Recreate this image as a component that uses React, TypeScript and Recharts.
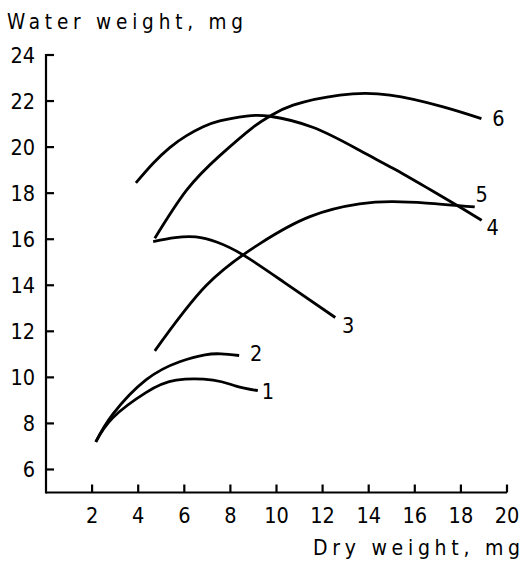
import React from 'react';
import { LineChart, Line, XAxis, YAxis, LabelList, Label } from 'recharts';

// Dry weight (mg) vs water weight (mg) for six growth curves
const dry1 = [2.16, 2.9, 4.35, 5.65, 7.25, 8.25, 9.19];
const water1 = [7.2, 8.25, 9.35, 9.88, 9.88, 9.62, 9.42];

const dry2 = [2.16, 2.9, 4.35, 5.8, 6.9, 7.6, 8.38];
const water2 = [7.2, 8.4, 9.9, 10.68, 10.98, 11.02, 10.95];

const dry3 = [4.65, 5.6, 6.5, 7.4, 8.55, 10.3, 12.55];
const water3 = [15.9, 16.07, 16.1, 15.88, 15.32, 14.15, 12.6];

const dry4 = [3.9, 4.65, 5.37, 6.1, 6.82, 7.54, 8.7, 9.71, 11.6, 13.6, 15.05, 16.5, 17.95, 18.9];
const water4 = [18.45, 19.3, 19.98, 20.5, 20.88, 21.14, 21.35, 21.34, 20.85, 19.86, 19.08, 18.25, 17.4, 16.82];

const dry5 = [4.72, 6.96, 9.28, 11.45, 13.6, 15.05, 16.5, 18.6];
const water5 = [11.15, 14.0, 15.81, 16.98, 17.53, 17.63, 17.57, 17.4];

const dry6 = [4.72, 6.1, 7.54, 8.98, 9.71, 10.72, 12.75, 14.92, 17.23, 18.89];
const water6 = [16.04, 18.13, 19.63, 20.86, 21.34, 21.82, 22.26, 22.26, 21.75, 21.24];

const curveNames = ['1', '2', '3', '4', '5', '6'];
const dryTicks = [2, 4, 6, 8, 10, 12, 14, 16, 18, 20];
const waterTicks = [6, 8, 10, 12, 14, 16, 18, 20, 22, 24];

const xTitle = 'Dry weight, mg';
const yTitle = 'Water weight, mg';

const curves = [
  [dry1, water1],
  [dry2, water2],
  [dry3, water3],
  [dry4, water4],
  [dry5, water5],
  [dry6, water6],
].map(([xs, ys], i) => ({
  name: curveNames[i],
  data: xs.map((x, j) => ({ x, y: ys[j] })),
}));

// Where each curve's number sits relative to its last point
const endLabelShift: Record<string, [number, number]> = {
  '1': [10, 1],
  '2': [17, -2],
  '3': [13, 8],
  '4': [11, 7],
  '5': [7, -12],
  '6': [17, 0],
};

const FONT = "'DejaVu Sans Condensed', 'DejaVu Sans', sans-serif";
const INK = '#000';

const YTick = (props: any) => {
  const { x, y, payload } = props;
  return (
    <g>
      <line x1={x} y1={y} x2={x + 8} y2={y} stroke={INK} strokeWidth={2.2} />
      <text x={x - 11} y={y + 7.5} textAnchor="end" fontFamily={FONT} fontSize={21.5} fill={INK}>
        {payload.value}
      </text>
    </g>
  );
};

const XTick = (props: any) => {
  const { x, y, payload } = props;
  return (
    <g>
      <line x1={x} y1={y} x2={x} y2={y - 8} stroke={INK} strokeWidth={2.2} />
      <text x={x} y={y + 30.5} textAnchor="middle" fontFamily={FONT} fontSize={21.5} fill={INK}>
        {payload.value}
      </text>
    </g>
  );
};

const makeEndLabel = (name: string, last: number) => (props: any) => {
  const { x, y, index } = props;
  if (index !== last) return null;
  const [dx, dy] = endLabelShift[name];
  return (
    <text
      x={x + dx}
      y={y + dy}
      textAnchor="middle"
      dominantBaseline="central"
      fontFamily={FONT}
      fontSize={21.5}
      fill={INK}
    >
      {name}
    </text>
  );
};

export default function App() {
  return (
    <div style={{ position: 'absolute', left: 0, top: 0, background: '#fff' }}>
      <LineChart
        width={522}
        height={568}
        margin={{ top: 55, right: 15, bottom: 0, left: 0 }}
      >
        <XAxis
          type="number"
          dataKey="x"
          domain={[0, 20]}
          ticks={dryTicks}
          allowDataOverflow
          height={75.5}
          tickSize={0}
          tickMargin={0}
          tick={<XTick />}
          axisLine={{ stroke: INK, strokeWidth: 2.2 }}
          tickLine={false}
        >
          <Label
            content={() => (
              <text x={313} y={555} fontFamily={FONT} fontSize={21} fill={INK} textLength={207} lengthAdjust="spacing">
                {xTitle}
              </text>
            )}
          />
        </XAxis>
        <YAxis
          type="number"
          dataKey="y"
          domain={[5, 24]}
          ticks={waterTicks}
          allowDataOverflow
          width={46}
          tickSize={0}
          tickMargin={0}
          tick={<YTick />}
          axisLine={false}
          tickLine={false}
        >
          <Label
            content={() => (
              <g>
                <line x1={46} y1={54} x2={46} y2={493.6} stroke={INK} strokeWidth={2.2} />
                <text x={7} y={28.5} fontFamily={FONT} fontSize={20.5} fill={INK} textLength={236} lengthAdjust="spacing">
                  {yTitle}
                </text>
              </g>
            )}
          />
        </YAxis>
        {curves.map((c) => (
          <Line
            key={c.name}
            data={c.data}
            dataKey="y"
            type="natural"
            stroke={INK}
            strokeWidth={2.8}
            dot={false}
            activeDot={false}
            isAnimationActive={false}
          >
            <LabelList dataKey="y" content={makeEndLabel(c.name, c.data.length - 1)} />
          </Line>
        ))}
      </LineChart>
    </div>
  );
}
